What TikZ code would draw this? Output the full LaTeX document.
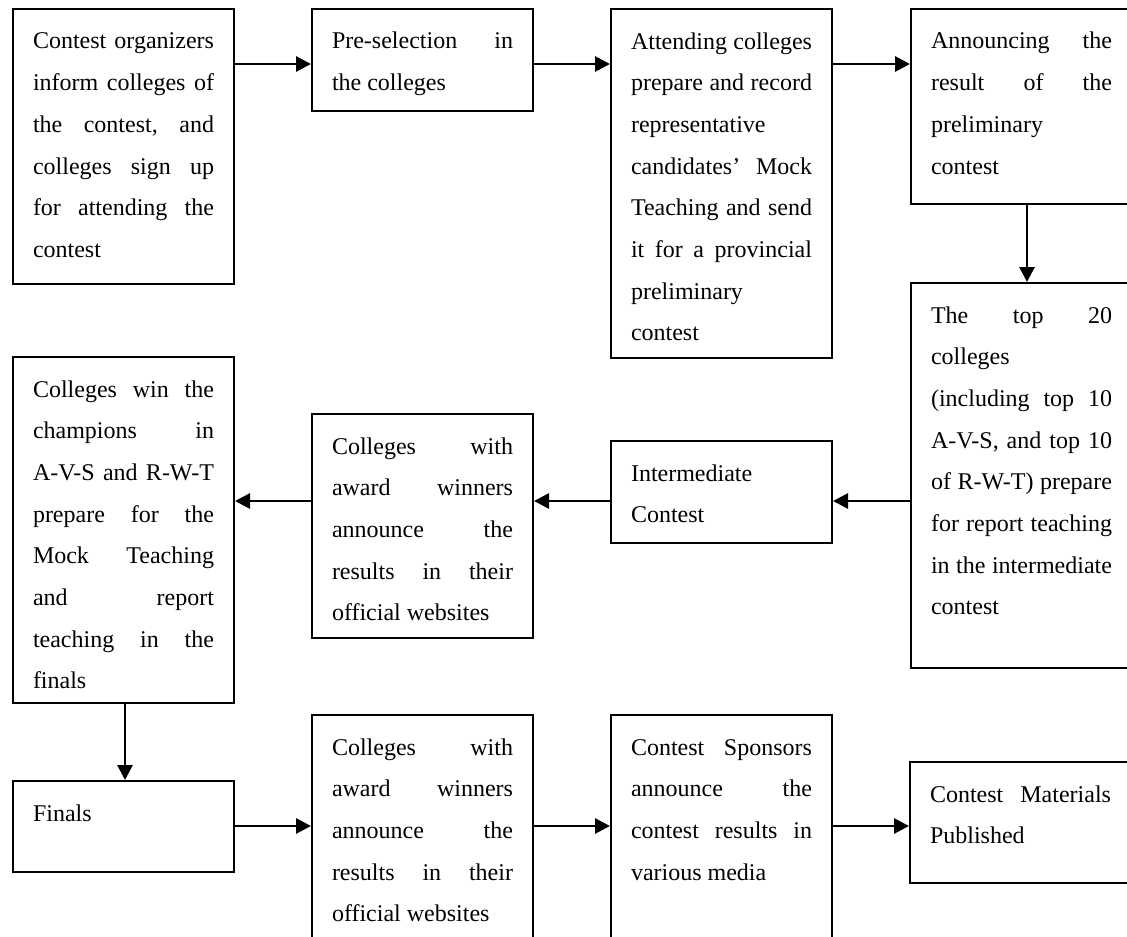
\documentclass[tikz,border=0pt]{standalone}
\usepackage{fontspec}
\setmainfont{Liberation Serif}
\usetikzlibrary{arrows.meta}

% column of text inside every stage box
\newlength\colw
\setlength\colw{90.5pt}
% justified line / last (left-aligned) line of a paragraph
\newcommand\jline[1]{\hbox to\colw{#1}}
\newcommand\lline[1]{\hbox to\colw{#1\hfil}}
% top-aligned block of lines, first baseline 20pt below the box top
\newcommand\stagetext[2]{\vbox to #1{\baselineskip=20.85pt\lineskiplimit=-20pt
  \kern\dimexpr20pt-\baselineskip\relax\hbox{}#2\vss}}
\hbadness=10000
\hfuzz=10pt
\frenchspacing

\tikzset{
  stage/.style={draw, line width=1pt, anchor=north west,
    inner xsep=10pt, inner ysep=0pt,
    font=\fontsize{12pt}{20.85pt}\selectfont},
  flow/.style={-{Triangle[length=7.5pt,width=7.5pt]}, line width=1.4pt}
}

\begin{document}
\begin{tikzpicture}[x=0.5pt, y=-0.5pt]
\useasboundingbox (0,0) rectangle (1127,936);
\clip (0,0) rectangle (1127,936);

% ---- first row ----
\node[stage] (A) at (12,8) {\stagetext{137.5pt}{
  \jline{Contest organizers}
  \jline{inform colleges of}
  \jline{the contest, and}
  \jline{colleges sign up}
  \jline{for attending the}
  \lline{contest}}};

\node[stage] (B) at (311,8) {\stagetext{51pt}{
  \jline{Pre-selection in}
  \lline{the colleges}}};

\node[stage] (C) at (610,8) {\stagetext{174.5pt}{
  \jline{Attending colleges}
  \jline{prepare and record}
  \lline{representative}
  \jline{candidates’ Mock}
  \jline{Teaching and send}
  \jline{it for a provincial}
  \lline{preliminary}
  \lline{contest}}};

\node[stage] (D) at (910,8) {\stagetext{97.5pt}{
  \jline{Announcing the}
  \jline{result of the}
  \lline{preliminary}
  \lline{contest}}};

% ---- second row ----
\node[stage] (E) at (910,282) {\stagetext{192.5pt}{
  \jline{The top 20}
  \lline{colleges}
  \jline{(including top 10}
  \jline{A-V-S, and top 10}
  \jline{of R-W-T) prepare}
  \jline{for report teaching}
  \jline{in the intermediate}
  \lline{contest}}};

\node[stage] (F) at (610,440) {\stagetext{51pt}{
  \lline{Intermediate}
  \lline{Contest}}};

\node[stage] (G) at (311,413) {\stagetext{112pt}{
  \jline{Colleges with}
  \jline{award winners}
  \jline{announce the}
  \jline{results in their}
  \lline{official websites}}};

\node[stage] (H) at (12,356) {\stagetext{173pt}{
  \jline{Colleges win the}
  \jline{champions in}
  \jline{A-V-S and R-W-T}
  \jline{prepare for the}
  \jline{Mock Teaching}
  \jline{and report}
  \jline{teaching in the}
  \lline{finals}}};

% ---- third row ----
\node[stage] (I) at (12,780) {\stagetext{45.5pt}{
  \lline{Finals}}};

\node[stage] (J) at (311,714) {\stagetext{118pt}{
  \jline{Colleges with}
  \jline{award winners}
  \jline{announce the}
  \jline{results in their}
  \lline{official websites}}};

\node[stage] (K) at (610,714) {\stagetext{118pt}{
  \jline{Contest Sponsors}
  \jline{announce the}
  \jline{contest results in}
  \lline{various media}}};

\node[stage] (L) at (909,761) {\stagetext{60.5pt}{
  \jline{Contest Materials}
  \lline{Published}}};

% rows and columns the connectors run along
\coordinate (row1) at (0,64);
\coordinate (row2) at (0,501);
\coordinate (row3) at (0,826);
\coordinate (colD) at (1027,0);
\coordinate (colH) at (125,0);

\draw[flow] (row1 -| A.east) -- (row1 -| B.west);
\draw[flow] (row1 -| B.east) -- (row1 -| C.west);
\draw[flow] (row1 -| C.east) -- (row1 -| D.west);
\draw[flow] (colD |- D.south) -- (colD |- E.north);
\draw[flow] (row2 -| E.west) -- (row2 -| F.east);
\draw[flow] (row2 -| F.west) -- (row2 -| G.east);
\draw[flow] (row2 -| G.west) -- (row2 -| H.east);
\draw[flow] (colH |- H.south) -- (colH |- I.north);
\draw[flow] (row3 -| I.east) -- (row3 -| J.west);
\draw[flow] (row3 -| J.east) -- (row3 -| K.west);
\draw[flow] (row3 -| K.east) -- (row3 -| L.west);
\end{tikzpicture}
\end{document}
